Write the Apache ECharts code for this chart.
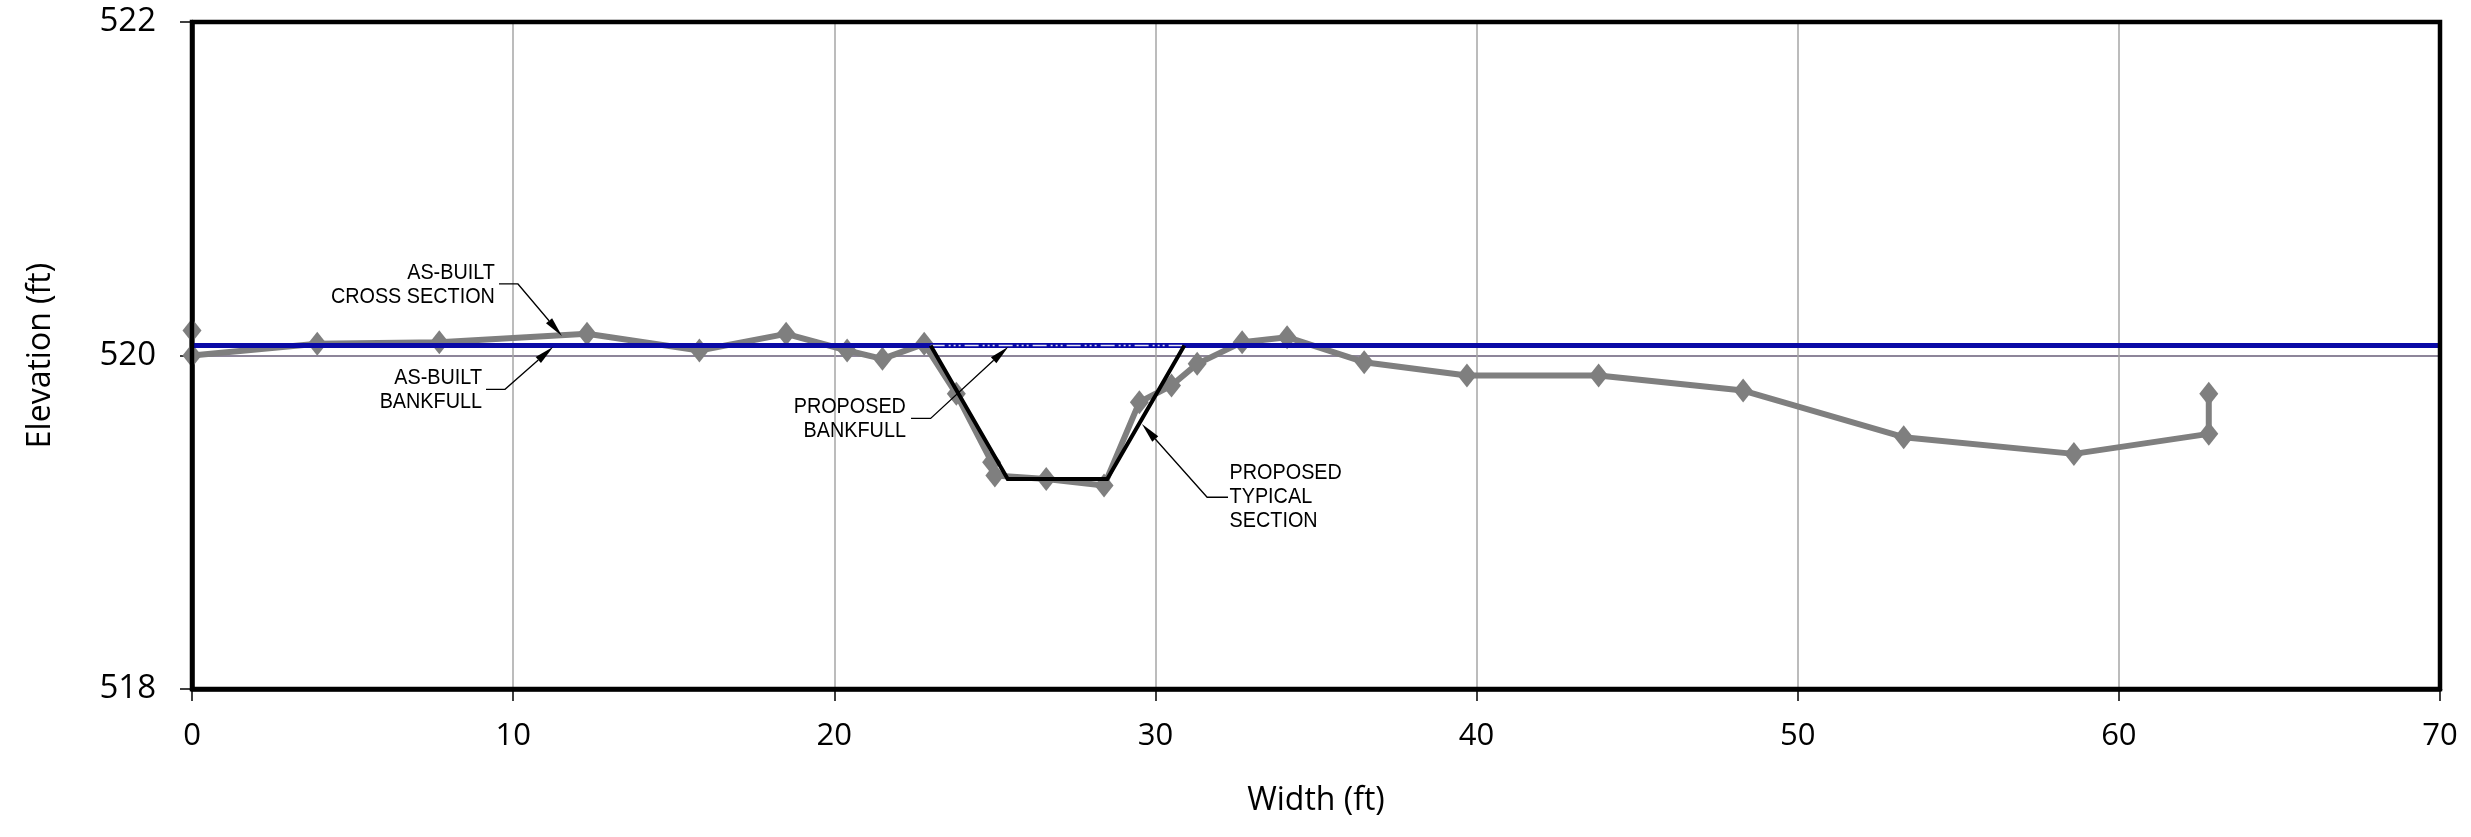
<!DOCTYPE html>
<html>
<head>
<meta charset="utf-8">
<script src="https://cdn.jsdelivr.net/npm/echarts@6/dist/echarts.min.js"></script>
<style>
html,body{margin:0;padding:0;background:#ffffff;}
#chart{width:2471px;height:837px;}
</style>
</head>
<body>
<div id="chart"></div>
<script>
// ---- data ----
const asBuiltX = [0, 0, 3.9, 7.7, 12.3, 15.8, 18.5, 20.4, 21.5, 22.8, 23.8, 24.9, 25.0, 26.6, 28.4, 29.5, 30.5, 31.3, 32.7, 34.1, 36.5, 39.7, 43.8, 48.3, 53.3, 58.6, 62.8, 62.8];
const asBuiltY = [520.15, 520.0, 520.07, 520.08, 520.13, 520.03, 520.13, 520.03, 519.98, 520.07, 519.77, 519.36, 519.28, 519.26, 519.22, 519.72, 519.82, 519.95, 520.08, 520.11, 519.96, 519.88, 519.88, 519.79, 519.51, 519.41, 519.53, 519.77];
const bankfullX = [0, 70];
const bankfullY = [520.06, 520.06];
const proposedBankfullX = [23.0, 30.9];
const proposedBankfullY = [520.06, 520.06];
const proposedX = [23.0, 25.4, 28.5, 30.9];
const proposedY = [520.06, 519.26, 519.26, 520.06];
const xMin = 0, xMax = 70, xStep = 10;
const yMin = 518, yMax = 522, yStep = 2;
const xTitle = 'Width (ft)';
const yTitle = 'Elevation (ft)';
const annotationTexts = [
  ['AS-BUILT', 'CROSS SECTION'],
  ['AS-BUILT', 'BANKFULL'],
  ['PROPOSED', 'BANKFULL'],
  ['PROPOSED', 'TYPICAL', 'SECTION']
];
const annotationAlign = ['right', 'right', 'right', 'left'];
const annotationAnchor = [[9.43, 520.426], [9.03, 519.795], [22.23, 519.618], [32.31, 519.154]];
const annotationPath = [
  [[9.56, 520.429], [10.15, 520.429], [11.52, 520.117]],
  [[9.155, 519.797], [9.747, 519.797], [11.25, 520.053]],
  [[22.39, 519.623], [23.00, 519.623], [25.42, 520.053]],
  [[32.26, 519.150], [31.61, 519.150], [29.58, 519.589]]
];

const zip = (xs, ys) => xs.map((x, i) => [x, ys[i]]);
const axisFont = '"Open Sans", "Noto Sans", sans-serif';

const chart = echarts.init(document.getElementById('chart'), null, {renderer: 'canvas'});
const option = {
  animation: false,
  backgroundColor: '#ffffff',
  grid: {left: 192, right: 31, top: 22, bottom: 148, show: false},
  xAxis: {
    type: 'value', min: xMin, max: xMax, interval: xStep,
    name: xTitle, nameLocation: 'middle', nameGap: 96,
    nameTextStyle: {fontSize: 32, fontFamily: axisFont, color: '#000'},
    axisLine: {show: true, onZero: false, lineStyle: {color: '#000', width: 4.5}},
    axisTick: {show: true, inside: false, length: 12, lineStyle: {color: '#000', width: 1.5}},
    axisLabel: {fontSize: 31, fontFamily: axisFont, color: '#000', margin: 32},
    splitLine: {show: true, lineStyle: {color: '#a6a6a6', width: 1.5}}
  },
  yAxis: {
    type: 'value', min: yMin, max: yMax, interval: yStep,
    name: yTitle, nameLocation: 'middle', nameGap: 135, nameRotate: 90,
    nameTextStyle: {fontSize: 32, fontFamily: axisFont, color: '#000'},
    axisLine: {show: true, onZero: false, lineStyle: {color: '#000', width: 4.5}},
    axisTick: {show: true, inside: false, length: 12, lineStyle: {color: '#000', width: 1.5}},
    axisLabel: {fontSize: 33, fontFamily: axisFont, color: '#000', margin: 36},
    splitLine: {show: true, lineStyle: {color: '#8d8599', width: 1.8}}
  },
  series: [
    {
      name: 'As-Built Cross Section', type: 'line', data: zip(asBuiltX, asBuiltY), z: 2,
      symbol: 'diamond', symbolSize: [19, 24], showAllSymbol: true,
      lineStyle: {color: '#7f7f7f', width: 6}, itemStyle: {color: '#7f7f7f'}
    },
    {
      name: 'As-Built Bankfull', type: 'line', data: zip(bankfullX, bankfullY), z: 3,
      symbol: 'none', lineStyle: {color: '#0a0aa6', width: 5}
    },
    {
      name: 'Proposed Bankfull', type: 'line', data: zip(proposedBankfullX, proposedBankfullY), z: 4,
      symbol: 'none', lineStyle: {color: '#e4e4f4', width: 1.5, type: [14, 4, 2, 3, 2, 3, 2, 4]}
    },
    {
      name: 'Proposed Typical Section', type: 'line', data: zip(proposedX, proposedY), z: 5,
      symbol: 'none', lineStyle: {color: '#000', width: 4, join: 'miter'}
    }
  ]
};
chart.setOption(option);

// ---- frame + annotations (callouts with leader arrows) ----
const px = (p) => chart.convertToPixel({xAxisIndex: 0, yAxisIndex: 0}, p);
const graphics = [];
const tl = px([xMin, yMax]), br = px([xMax, yMin]);
graphics.push({
  type: 'rect', z: 90, silent: true,
  shape: {x: tl[0], y: tl[1], width: br[0] - tl[0], height: br[1] - tl[1]},
  style: {fill: null, stroke: '#000', lineWidth: 4.5}
});
annotationTexts.forEach((lines, i) => {
  const a = px(annotationAnchor[i]);
  graphics.push({
    type: 'text', x: a[0], y: a[1], scaleX: 0.9, z: 100,
    style: {
      text: lines.join('\n'), fill: '#000',
      font: '22px "Liberation Sans", Arial, sans-serif',
      align: annotationAlign[i], textAlign: annotationAlign[i],
      verticalAlign: 'middle', textVerticalAlign: 'middle', lineHeight: 24
    }
  });
  const pts = annotationPath[i].map(px);
  const tip = pts[pts.length - 1];
  const prev = pts[pts.length - 2];
  const dx = tip[0] - prev[0], dy = tip[1] - prev[1];
  const len = Math.hypot(dx, dy);
  const ux = dx / len, uy = dy / len;
  const L = 20, W = 4;
  const bx = tip[0] - ux * L, by = tip[1] - uy * L;
  graphics.push({
    type: 'polyline', z: 100,
    shape: {points: pts.slice(0, -1).concat([[bx, by]])},
    style: {stroke: '#000', lineWidth: 1.3, fill: null}
  });
  graphics.push({
    type: 'polygon', z: 100,
    shape: {points: [tip, [bx - uy * W, by + ux * W], [bx + uy * W, by - ux * W]]},
    style: {fill: '#000', stroke: null}
  });
});
chart.setOption({graphic: {elements: graphics}});
</script>
</body>
</html>
